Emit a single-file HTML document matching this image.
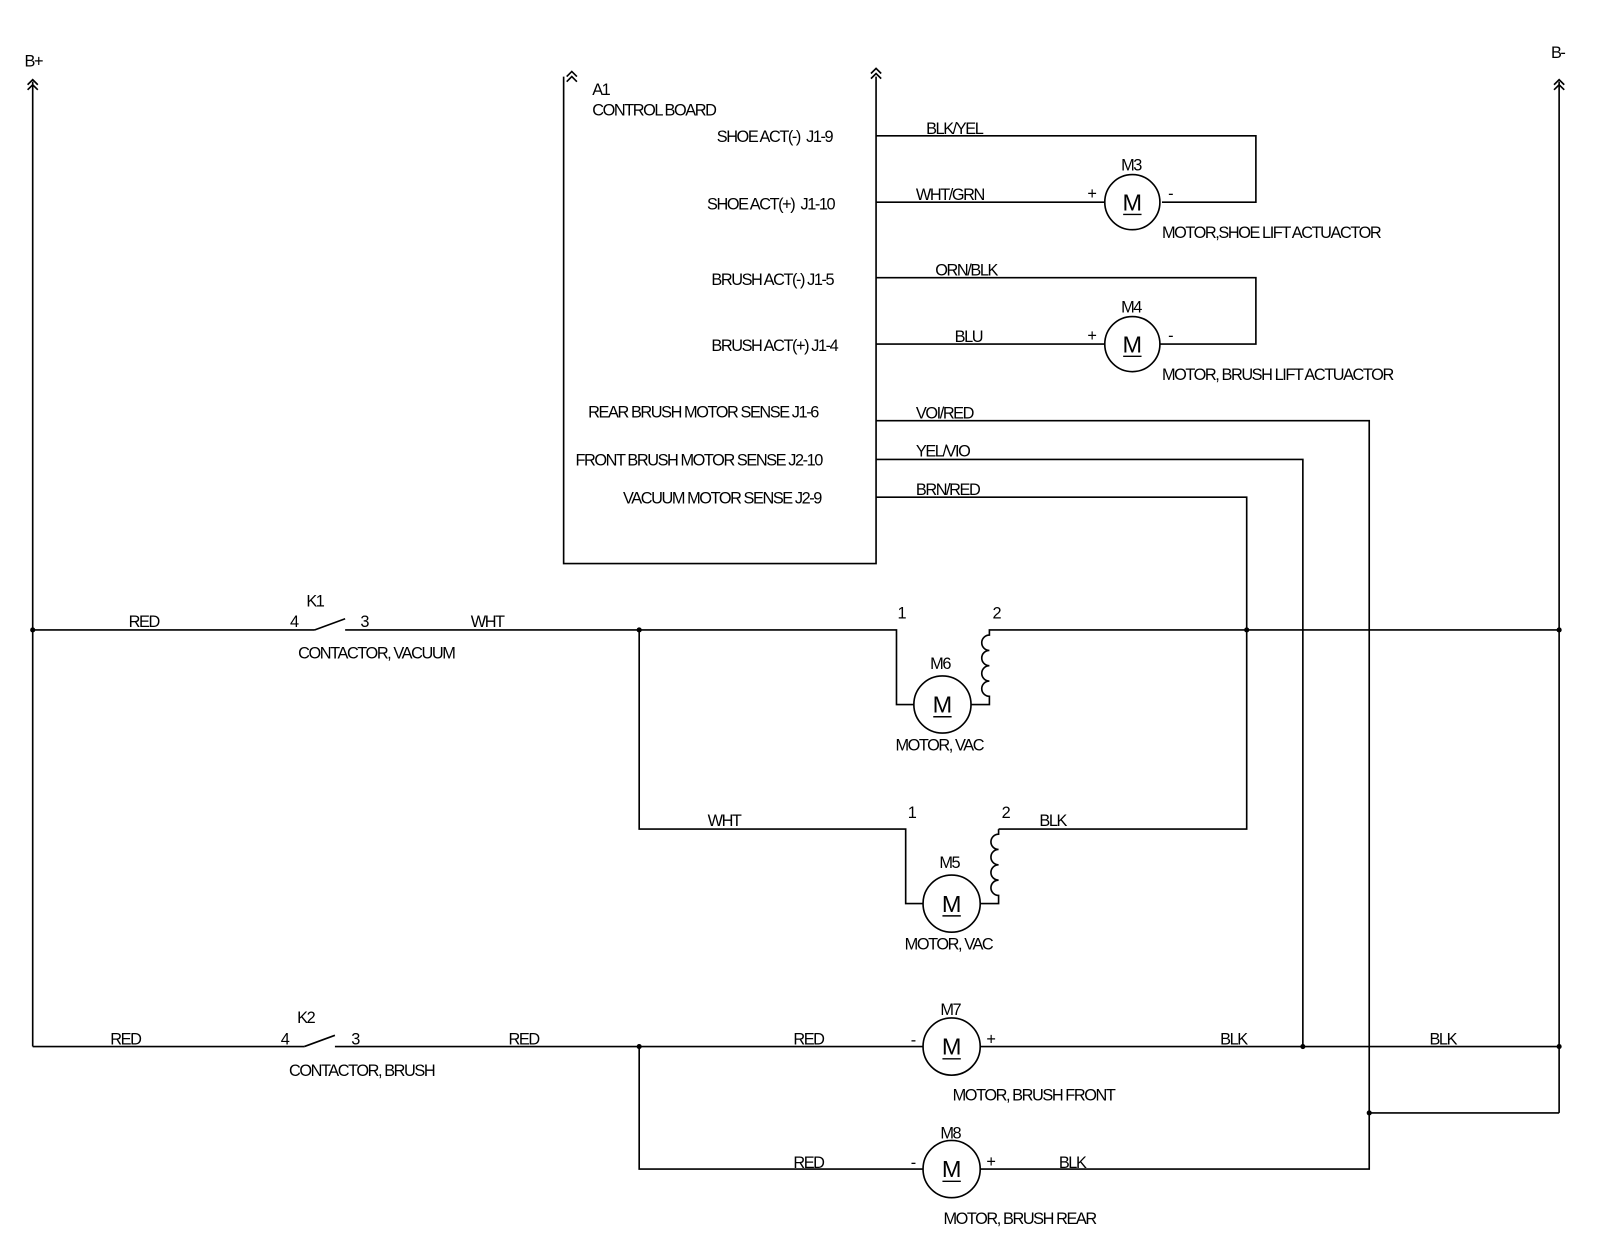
<!DOCTYPE html>
<html><head><meta charset="utf-8"><style>
html,body{margin:0;padding:0;background:#fff;width:1600px;height:1253px;overflow:hidden}
svg{display:block}
text{font-family:"Liberation Sans",sans-serif;font-size:16px;letter-spacing:-1.4px;fill:#000}
text.m{font-size:23px;letter-spacing:0}
</style></head><body>
<svg width="1600" height="1253" viewBox="0 0 1567 1227.2" xmlns="http://www.w3.org/2000/svg">
<g fill="none" stroke="#000" stroke-width="1.6">
<line x1="32" y1="80" x2="32" y2="1025"/>
<line x1="1527" y1="80" x2="1527" y2="1090"/>
<path d="M27 83 L32 78 L37 83 M27 88 L32 83 L37 88"/>
<path d="M1522 83 L1527 78 L1532 83 M1522 88 L1527 83 L1532 88"/>
<path d="M555 75 L560 70 L565 75 M555 80 L560 75 L565 80"/>
<path d="M853 72 L858 67 L863 72 M853 77 L858 72 L863 77"/>
<path d="M552 75 L552 552 L858 552 L858 75"/>
<path d="M858 133 L1230 133 L1230 198 L1138 198"/>
<line x1="858" y1="198" x2="1082" y2="198"/>
<circle cx="1109" cy="198" r="27"/>
<path d="M858 272 L1230 272 L1230 337 L1136 337"/>
<line x1="858" y1="337" x2="1082" y2="337"/>
<circle cx="1109" cy="337" r="27"/>
<path d="M858 412 L1341 412 L1341 1145 L960 1145"/>
<path d="M858 450 L1276 450 L1276 1025"/>
<path d="M858 487 L1221 487 L1221 812 L978 812"/>
<line x1="1341" y1="1090" x2="1527" y2="1090"/>
<line x1="32" y1="617" x2="308" y2="617"/>
<line x1="308" y1="617" x2="338" y2="606"/>
<path d="M338 617 L878 617 L878 690 L895 690"/>
<circle cx="923" cy="690" r="28"/>
<path d="M951 690 L969 690 L969 682 a7.5 7.5 0 0 1 0 -15 a7.5 7.5 0 0 1 0 -15 a7.5 7.5 0 0 1 0 -15 a7.5 7.5 0 0 1 0 -15 L969 617 L1527 617"/>
<path d="M626 617 L626 812 L887 812 L887 885 L904 885"/>
<circle cx="932" cy="885" r="28"/>
<path d="M960 885 L978 885 L978 877 a7.5 7.5 0 0 1 0 -15 a7.5 7.5 0 0 1 0 -15 a7.5 7.5 0 0 1 0 -15 a7.5 7.5 0 0 1 0 -15 L978 812"/>
<line x1="32" y1="1025" x2="298" y2="1025"/>
<line x1="298" y1="1025" x2="328" y2="1014"/>
<line x1="328" y1="1025" x2="904" y2="1025"/>
<circle cx="932" cy="1025" r="28"/>
<line x1="960" y1="1025" x2="1527" y2="1025"/>
<path d="M626 1025 L626 1145 L904 1145"/>
<circle cx="932" cy="1145" r="28"/>
</g>
<g fill="#000">
<circle cx="32" cy="617" r="2.5"/><circle cx="626" cy="617" r="2.5"/><circle cx="1221" cy="617" r="2.5"/><circle cx="1527" cy="617" r="2.5"/>
<circle cx="626" cy="1025" r="2.5"/><circle cx="1276" cy="1025" r="2.5"/><circle cx="1527" cy="1025" r="2.5"/><circle cx="1341" cy="1090" r="2.5"/>
</g>
<g text-anchor="middle">
<text class="m" x="1109" y="206">M</text><text class="m" x="1109" y="345">M</text><text class="m" x="923" y="698">M</text>
<text class="m" x="932" y="893">M</text><text class="m" x="932" y="1033">M</text><text class="m" x="932" y="1153">M</text>
</g>
<g stroke="#000" stroke-width="1.4">
<line x1="1100" y1="210" x2="1118" y2="210"/><line x1="1100" y1="349" x2="1118" y2="349"/>
<line x1="914" y1="702" x2="932" y2="702"/><line x1="923" y1="897" x2="941" y2="897"/>
<line x1="923" y1="1037" x2="941" y2="1037"/><line x1="923" y1="1157" x2="941" y2="1157"/>
</g>
<text x="24" y="65">B+</text>
<text x="1519" y="57">B-</text>
<text x="580" y="93">A1</text>
<text x="580" y="113">CONTROL BOARD</text>
<g text-anchor="end">
<text x="815" y="139">SHOE ACT(-)  &#160;J1-9</text>
<text x="817" y="205">SHOE ACT(+)  &#160;J1-10</text>
<text x="816" y="279">BRUSH ACT(-) J1-5</text>
<text x="820" y="344">BRUSH ACT(+) J1-4</text>
<text x="801" y="409">REAR BRUSH MOTOR SENSE J1-6</text>
<text x="805" y="456">FRONT BRUSH MOTOR SENSE J2-10</text>
<text x="804" y="493">VACUUM MOTOR SENSE J2-9</text>
</g>
<text x="907" y="131">BLK/YEL</text>
<text x="897" y="196">WHT/GRN</text>
<text x="916" y="270">ORN/BLK</text>
<text x="935" y="335">BLU</text>
<text x="897" y="410">VOI/RED</text>
<text x="897" y="447">YEL/VIO</text>
<text x="897" y="485">BRN/RED</text>
<text x="1065" y="195">+</text><text x="1144" y="195">-</text>
<text x="1065" y="334">+</text><text x="1144" y="334">-</text>
<text x="1098" y="167">M3</text><text x="1098" y="306">M4</text>
<text x="1138" y="233">MOTOR,SHOE LIFT ACTUACTOR</text>
<text x="1138" y="372">MOTOR, BRUSH LIFT ACTUACTOR</text>
<text x="126" y="614">RED</text>
<text x="300" y="594">K1</text>
<text x="284" y="614">4</text><text x="353" y="614">3</text>
<text x="461" y="614">WHT</text>
<text x="292" y="645">CONTACTOR, VACUUM</text>
<text x="879" y="606">1</text><text x="972" y="606">2</text>
<text x="911" y="655">M6</text>
<text x="877" y="735">MOTOR, VAC</text>
<text x="693" y="809">WHT</text>
<text x="889" y="801">1</text><text x="981" y="801">2</text>
<text x="1018" y="809">BLK</text>
<text x="920" y="850">M5</text>
<text x="886" y="930">MOTOR, VAC</text>
<text x="108" y="1023">RED</text>
<text x="291" y="1002">K2</text>
<text x="275" y="1023">4</text><text x="344" y="1023">3</text>
<text x="283" y="1054">CONTACTOR, BRUSH</text>
<text x="498" y="1023">RED</text>
<text x="777" y="1023">RED</text>
<text x="892" y="1024">-</text><text x="966" y="1023">+</text>
<text x="921" y="994">M7</text>
<text x="1195" y="1023">BLK</text>
<text x="1400" y="1023">BLK</text>
<text x="933" y="1078">MOTOR, BRUSH FRONT</text>
<text x="777" y="1144">RED</text>
<text x="892" y="1144">-</text><text x="966" y="1143">+</text>
<text x="921" y="1115">M8</text>
<text x="1037" y="1144">BLK</text>
<text x="924" y="1199">MOTOR, BRUSH REAR</text>
</svg>
</body></html>
